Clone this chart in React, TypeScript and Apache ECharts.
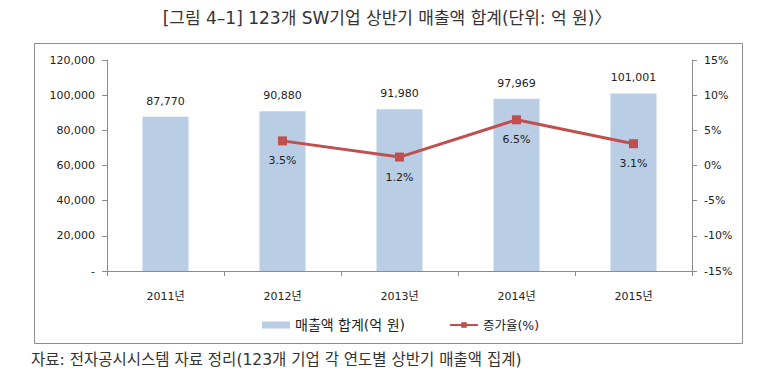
import React, { useEffect, useRef } from "react";
import * as echarts from "echarts";

const categories = ["2011년", "2012년", "2013년", "2014년", "2015년"];
const salesValues = [87770, 90880, 91980, 97969, 101001];
const growthValues: (number | null)[] = [null, 3.5, 1.2, 6.5, 3.1];
const leftTicks = [0, 20000, 40000, 60000, 80000, 100000, 120000];
const rightTicks = [-15, -10, -5, 0, 5, 10, 15];

const titleText = "[그림 4–1] 123개 SW기업 상반기 매출액 합계(단위: 억 원)〉";
const sourceText = "자료: 전자공시시스템 자료 정리(123개 기업 각 연도별 상반기 매출액 집계)";
const barName = "매출액 합계(억 원)";
const lineName = "증가율(%)";

const numFont = "'DejaVu Sans', 'Noto Sans CJK KR', sans-serif";

export default function App() {
  const ref = useRef<HTMLDivElement>(null);
  useEffect(() => {
    document.body.style.margin = "0";
    if (!ref.current) return;
    const chart = echarts.init(ref.current, undefined, { renderer: "svg" });
    const fmt = (v: number) => (v === 0 ? "-" : v.toLocaleString("en-US"));
    chart.setOption({
      animation: false,
      backgroundColor: "#ffffff",
      textStyle: { fontFamily: numFont },
      graphic: [
        {
          type: "rect",
          shape: { x: 34.5, y: 43.5, width: 708, height: 300 },
          style: { fill: "none", stroke: "#8c8c8c", lineWidth: 1 },
          silent: true,
        },
        {
          type: "text",
          x: 387,
          y: 18,
          style: {
            text: titleText,
            fontSize: 17,
            fontFamily: numFont,
            fill: "#333333",
            align: "center",
            verticalAlign: "middle",
          },
        },
        {
          type: "text",
          x: 31,
          y: 360,
          style: {
            text: sourceText,
            fontSize: 15.5,
            fontFamily: numFont,
            fill: "#333333",
            align: "left",
            verticalAlign: "middle",
          },
        },
      ],
      legend: {
        left: 262,
        top: 318,
        padding: 0,
        itemWidth: 28,
        itemHeight: 7,
        itemGap: 44,
        textStyle: { fontSize: 14, fontFamily: numFont, color: "#222" },
        data: [
          { name: barName, icon: "rect" },
          { name: lineName, textStyle: { fontSize: 12.5 } },
        ],
      },
      grid: { left: 107, right: 69, top: 60, bottom: 120 },
      xAxis: {
        type: "category",
        data: categories,
        axisLine: { lineStyle: { color: "#8c8c8c" } },
        axisTick: { show: true, alignWithLabel: false, length: 5, lineStyle: { color: "#8c8c8c" } },
        axisLabel: { fontSize: 11, color: "#222", margin: 20, fontFamily: numFont },
      },
      yAxis: [
        {
          type: "value",
          min: 0,
          max: 120000,
          interval: 20000,
          splitLine: { show: false },
          axisLine: { show: true, lineStyle: { color: "#8c8c8c" } },
          axisTick: { show: true, length: 5, lineStyle: { color: "#8c8c8c" } },
          axisLabel: { fontSize: 11, color: "#222", margin: 12, formatter: fmt },
        },
        {
          type: "value",
          min: -15,
          max: 15,
          interval: 5,
          splitLine: { show: false },
          axisLine: { show: true, lineStyle: { color: "#8c8c8c" } },
          axisTick: { show: true, length: 5, lineStyle: { color: "#8c8c8c" } },
          axisLabel: { fontSize: 11, color: "#222", margin: 12, formatter: (v: number) => v + "%" },
        },
      ],
      series: [
        {
          name: barName,
          type: "bar",
          data: salesValues,
          barWidth: 46,
          itemStyle: { color: "#b9cde5" },
          label: {
            show: true,
            position: "top",
            distance: 10,
            fontSize: 11,
            color: "#222",
            formatter: (p: any) => Number(p.value).toLocaleString("en-US"),
          },
        },
        {
          name: lineName,
          type: "line",
          yAxisIndex: 1,
          data: growthValues,
          connectNulls: false,
          symbol: "rect",
          symbolSize: 9,
          lineStyle: { color: "#c0504d", width: 3 },
          itemStyle: { color: "#c0504d" },
          label: {
            show: true,
            position: "bottom",
            distance: 10,
            fontSize: 11,
            color: "#222",
            formatter: (p: any) => Number(p.value).toFixed(1) + "%",
          },
        },
      ],
    });
    return () => chart.dispose();
  }, []);
  return <div ref={ref} style={{ width: 761, height: 391 }} />;
}
